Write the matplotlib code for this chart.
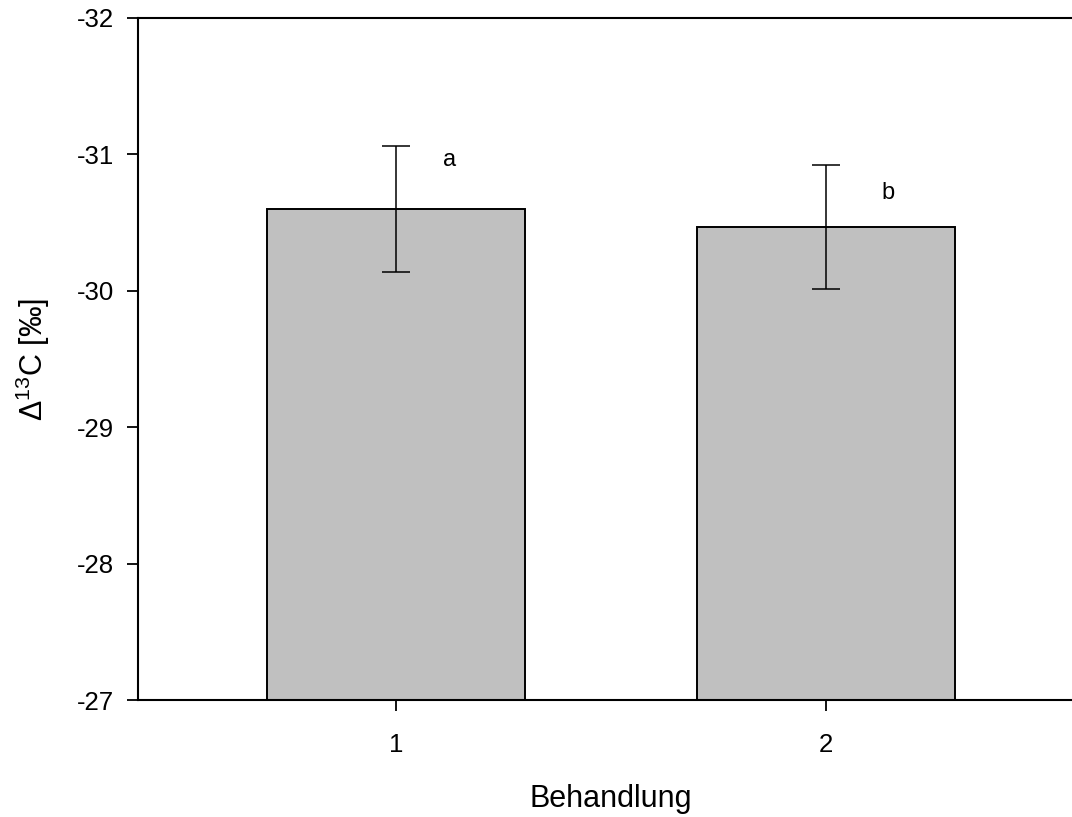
import matplotlib
matplotlib.use('Agg')
import matplotlib.pyplot as plt

plt.rcParams['font.family'] = ['Liberation Sans', 'DejaVu Sans']
plt.rcParams['mathtext.fontset'] = 'custom'
plt.rcParams['mathtext.rm'] = 'Liberation Sans'
plt.rcParams['mathtext.default'] = 'regular'

# data
behandlung = [1, 2]
delta13c = [-30.60, -30.47]
fehler = [0.46, 0.455]
buchstaben = ['a', 'b']
buchst_x = [1.125, 2.145]
buchst_y = [-30.96, -30.72]

fig = plt.figure(figsize=(10.72, 8.17), dpi=100)
# right edge of the frame sits just outside the picture
ax = fig.add_axes([0.1287, 0.1432, 0.8823, 0.8348])

ax.bar(behandlung, [d - (-27) for d in delta13c], bottom=-27, width=0.6,
       color='#c0c0c0', edgecolor='black', linewidth=1.4, zorder=2)
ax.errorbar(behandlung, delta13c, yerr=fehler, fmt='none', ecolor='black',
            elinewidth=1.1, capsize=10, capthick=1.1, zorder=3)

for bx, by, t in zip(buchst_x, buchst_y, buchstaben):
    ax.text(bx, by, t, fontsize=17, ha='center', va='center')

ax.set_xlim(0.4, 2.6)
ax.set_ylim(-27, -32)
ax.set_xticks(behandlung)
ax.set_yticks([-27, -28, -29, -30, -31, -32])
ax.set_yticklabels(['-27', '-28', '-29', '-30', '-31', '-32'])

for s in ax.spines.values():
    s.set_linewidth(1.5)
ax.tick_params(direction='out', length=8, width=1.3, labelsize=18.5, pad=9)
ax.tick_params(axis='x', pad=16)

ax.set_xlabel('Behandlung', fontsize=22, labelpad=19)
ax.set_ylabel('Δ$^{13}$C [‰]', fontsize=22, labelpad=18)

fig.savefig('out.png', dpi=100)
